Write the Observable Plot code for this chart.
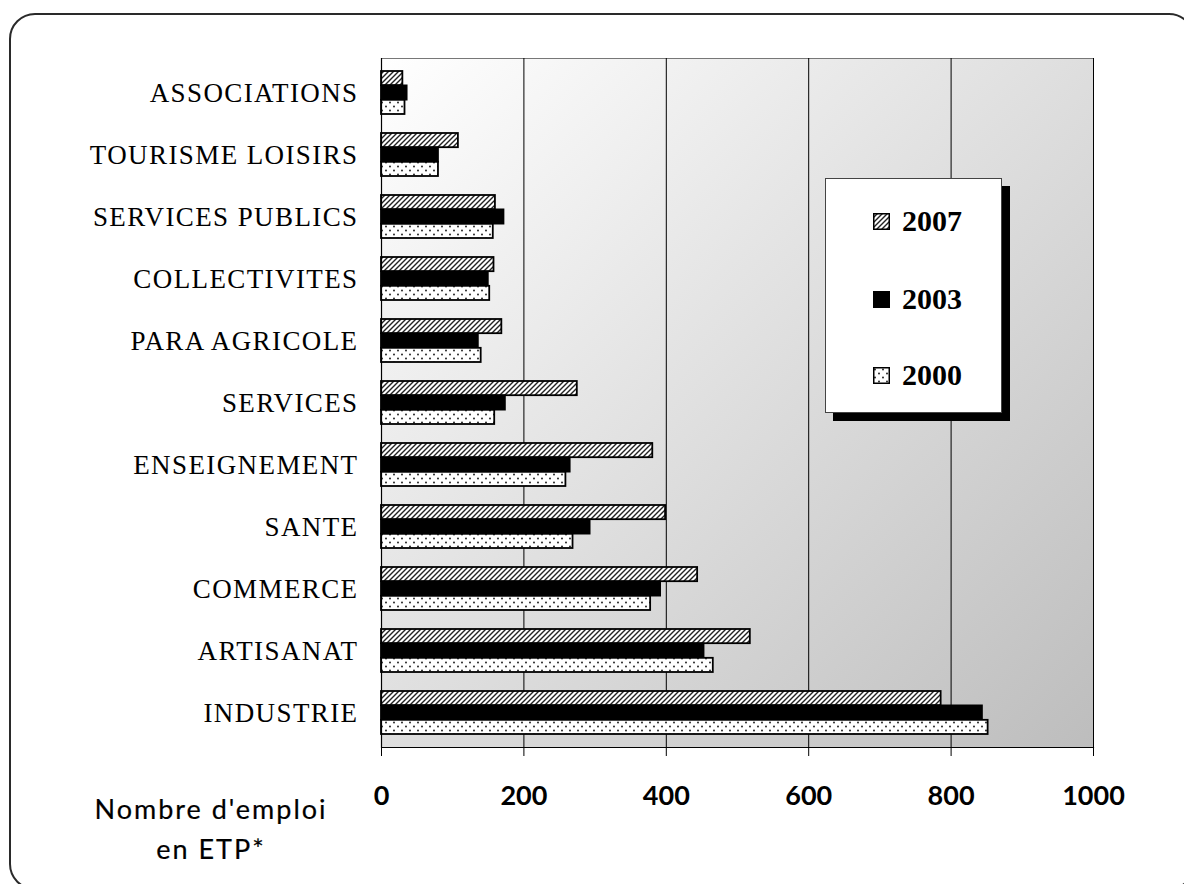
<!DOCTYPE html>
<html>
<head>
<meta charset="utf-8">
<script src="https://cdn.jsdelivr.net/npm/d3@7"></script>
<script src="https://cdn.jsdelivr.net/npm/@observablehq/plot@0.6"></script>
<style>
  html, body { margin: 0; padding: 0; background: #fff; }
  #wrap { position: relative; width: 1184px; height: 884px; overflow: hidden; background: #fff; }
  #border { position: absolute; left: 9px; top: 13px; width: 1186px; height: 877px; border: 2px solid #2a2a2a; border-radius: 26px; box-sizing: border-box; }
  #chart { position: absolute; left: 0; top: 0; }
  #chart g[aria-label="x-axis tick label"] text { font-family: Lato, "Open Sans", sans-serif; font-weight: 700; font-size: 27px; fill: #000; }
  #chart g[aria-label="y-axis tick label"] text { font-family: "Liberation Serif", "DejaVu Serif", serif; font-size: 27px; letter-spacing: 1.4px; fill: #000; }
  #xlabel { position: absolute; left: 40px; width: 342px; top: 789px; text-align: center; font-family: Lato, sans-serif; font-size: 27px; letter-spacing: 2px; line-height: 40px; color: #000; -webkit-text-stroke: 0.2px #000; }
  #legend { position: absolute; left: 825px; top: 178px; width: 177px; height: 235px; background: #fff; border: 1px solid #444; box-sizing: border-box; box-shadow: 8px 8px 0 #000; }
  .lg { position: absolute; left: 47px; height: 30px; display: flex; align-items: center; font-family: "Liberation Serif", serif; font-weight: 700; font-size: 30px; color: #000; }
  .lg svg { margin-right: 12px; }
</style>
</head>
<body>
<div id="wrap">
  <div id="border"></div>
  <div id="chart"></div>
  <div id="xlabel">Nombre d'emploi<br>en ETP*</div>
  <div id="legend"></div>
</div>
<script>
const categories = ["ASSOCIATIONS","TOURISME LOISIRS","SERVICES PUBLICS","COLLECTIVITES","PARA AGRICOLE","SERVICES","ENSEIGNEMENT","SANTE","COMMERCE","ARTISANAT","INDUSTRIE"];
const v2007 = [30,108,160,158,169,275,381,399,444,518,786];
const v2003 = [36,80,172,150,136,174,265,293,392,453,844];
const v2000 = [33,80,157,152,140,159,259,269,378,466,852];
const years = ["2007","2003","2000"];
const xTicks = [0,200,400,600,800,1000];
const gridValues = [200,400,600,800,1000];

const rows = categories.map((c, i) => ({cat: c, v2007: v2007[i], v2003: v2003[i], v2000: v2000[i]}));

const W = 1184, H = 820;
const mTop = 58, mBottom = H - 747, mLeft = 381, mRight = W - 1093;
const plotH = H - mTop - mBottom;
const pInner = 0.31, pOuter = 0.155;
const step = plotH / (categories.length - pInner + 2 * pOuter);
const third = step * (1 - pInner) / 3;

const chart = Plot.plot({
  width: W, height: H,
  marginTop: mTop, marginBottom: mBottom, marginLeft: mLeft, marginRight: mRight,
  style: {background: "transparent", overflow: "visible"},
  x: {domain: [0, 1000], ticks: xTicks},
  y: {domain: categories, paddingInner: pInner, paddingOuter: pOuter, align: 0.5},
  marks: [
    Plot.frame({fill: "url(#bgGrad)", stroke: "#777"}),
    Plot.ruleX(gridValues, {stroke: "#000", strokeWidth: 1}),
    Plot.barX(rows, {y: "cat", x: "v2007", fill: "url(#hatch)", stroke: "#000", strokeWidth: 1.8, insetTop: 0, insetBottom: 2 * third}),
    Plot.barX(rows, {y: "cat", x: "v2003", fill: "#000", stroke: "#000", strokeWidth: 1.8, insetTop: third, insetBottom: third}),
    Plot.barX(rows, {y: "cat", x: "v2000", fill: "url(#dots)", stroke: "#000", strokeWidth: 1.8, insetTop: 2 * third, insetBottom: 0}),
    Plot.ruleX([0], {stroke: "#000", strokeWidth: 1.2}),
    Plot.frame({anchor: "bottom", stroke: "#000", strokeWidth: 1.2}),
    Plot.axisX({ticks: xTicks, tickFormat: d => String(d), tickSize: 9, tickPadding: 29, label: null, stroke: "#000", fontSize: 27}),
    Plot.axisY({tickSize: 0, tickPadding: 23, label: null, fontSize: 27})
  ]
});

const defs = `
<linearGradient id="bgGrad" x1="0" y1="0" x2="1" y2="1">
  <stop offset="0" stop-color="#ffffff"/>
  <stop offset="1" stop-color="#bdbdbd"/>
</linearGradient>
<pattern id="hatch" patternUnits="userSpaceOnUse" width="5" height="5">
  <rect width="5" height="5" fill="#fff"/>
  <path d="M-1,1 L1,-1 M0,5 L5,0 M4,6 L6,4" stroke="#222" stroke-width="1.4"/>
</pattern>
<pattern id="dots" patternUnits="userSpaceOnUse" width="8" height="8">
  <rect width="8" height="8" fill="#fff"/>
  <circle cx="2" cy="2.5" r="0.9" fill="#111"/>
  <circle cx="6" cy="6.5" r="0.9" fill="#111"/>
</pattern>`;
d3.select(chart).insert("defs", ":first-child").html(defs);
document.getElementById("chart").appendChild(chart);

// Legend
const legend = document.getElementById("legend");
const swatchFill = {"2007": "url(#hatch)", "2003": "#000", "2000": "url(#dots)"};
const legendTop = [27, 105, 181];
years.forEach((y, i) => {
  const div = document.createElement("div");
  div.className = "lg";
  div.style.top = legendTop[i] + "px";
  div.innerHTML = `<svg width="17" height="17"><rect x="0.75" y="0.75" width="15.5" height="15.5" fill="${swatchFill[y]}" stroke="#000" stroke-width="1.5"/></svg><span>${y}</span>`;
  legend.appendChild(div);
});
</script>
</body>
</html>
